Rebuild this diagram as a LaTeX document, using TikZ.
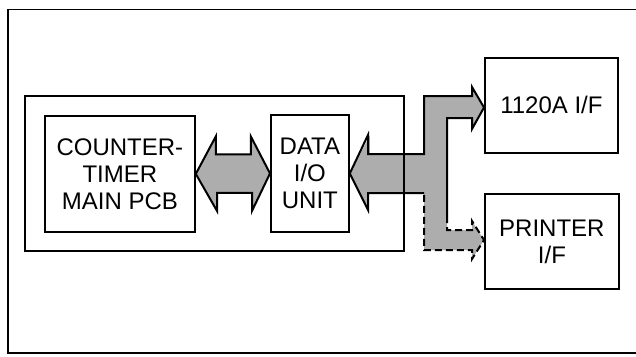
\documentclass[tikz,border=0pt]{standalone}
\usepackage{fontspec}
\setmainfont{Liberation Sans}
\begin{document}
\begin{tikzpicture}[x=1pt,y=-1pt,
  box/.style={draw,line width=1.8pt,inner sep=0pt,anchor=north west,align=center,
    font=\fontsize{24}{27}\selectfont},
  busfill/.style={fill=black!32},
  busline/.style={line width=2pt,line join=miter},
  busdash/.style={line width=2pt,dash pattern=on 7pt off 4pt}]
\useasboundingbox (0,0) rectangle (636,356);
% outer frame (open on the right)
\draw[line width=1.9pt] (636,9.5) -- (8,9.5) -- (8,353) -- (636,353);
% boxes
\node[box,minimum width=150pt,minimum height=116pt] (ct) at (44,115) {COUNTER-\\TIMER\\MAIN PCB};
\node[box,minimum width=78pt,minimum height=117pt] (dio) at (270,114) {DATA\\I/O\\UNIT};
\node[box,minimum width=133pt,minimum height=95pt] (ifa) at (484,57) {1120A I/F};
\node[box,minimum width=134pt,minimum height=95pt] (ifp) at (484,193) {PRINTER\\I/F};
% double arrow between main PCB and data unit
\draw[busfill,busline] (ct.east) -- ++(20,-37.5) -- ++(0,18) -- ++(35,0) -- ++(0,-18)
  -- (dio.west) -- ++(-18,37.5) -- ++(0,-18) -- ++(-35,0) -- ++(0,18) -- cycle;
% bus from data unit to the interfaces
\fill[busfill] (dio.east) -- ++(20,-37.5) -- ++(0,19) -- (424,154) -- (424,96) -- (472,96)
  -- (472,87) -- (ifa.west |- 0,107.5) -- (472,129) -- (472,118) -- (447,118) -- (447,230)
  -- (472,230) -- (472,221) -- (ifp.west |- 0,240) -- (472,259) -- (472,250) -- (424,250)
  -- (424,193) -- (368,193) -- (368,210) -- cycle;
\draw[busline] (424,193) -- (368,193) -- (368,210) -- (dio.east) -- (368,135) -- (368,154)
  -- (424,154) -- (424,96) -- (472,96) -- (472,87) -- (ifa.west |- 0,107.5) -- (472,129)
  -- (472,118) -- (447,118) -- (447,216);
\draw[busdash] (447,216) -- (447,230) -- (472,230) -- (472,221) -- (ifp.west |- 0,240)
  -- (472,259) -- (472,250) -- (424,250) -- (424,193);
% container box (drawn over the bus)
\node[draw,line width=1.8pt,anchor=north west,inner sep=0pt,minimum width=379pt,minimum height=155pt] (cont) at (24,95) {};
\end{tikzpicture}
\end{document}
